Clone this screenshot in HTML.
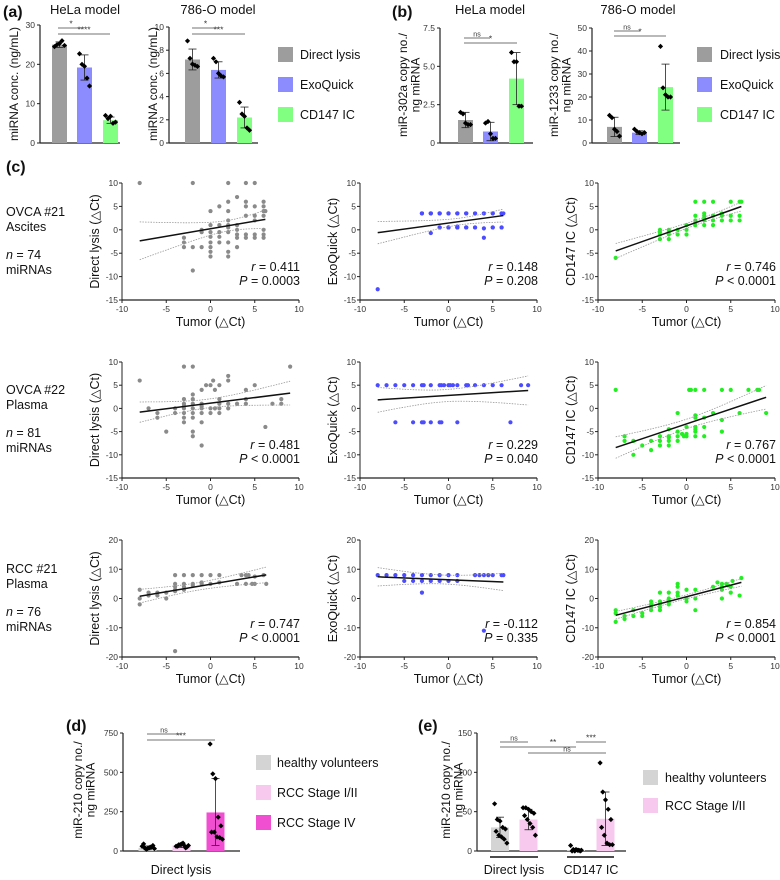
<!DOCTYPE html>
<html><head><meta charset="utf-8"><style>
html,body{margin:0;padding:0;background:#fff}
svg{display:block;font-family:"Liberation Sans",Arial,sans-serif}
</style></head><body>
<svg id="fig" width="780" height="880" viewBox="0 0 780 880" xmlns="http://www.w3.org/2000/svg"></svg>
<script>
// ---------- data: panel (a) ----------
const aCats = ["Direct lysis","ExoQuick","CD147 IC"];
const aHelaMeans = [25, 19.2, 5.8];
const aHelaSd = [0.7, 3.2, 0.8];
const aHelaPts = [[24.5,25,25.3,26,24.8],[22.7,20,19.5,16.5,14.5],[7,6.2,6.8,5,5.3]];
const a786Means = [7.2, 6.3, 2.2];
const a786Sd = [0.9, 0.7, 0.9];
const a786Pts = [[8.8,7.3,6.8,6.7,6.6],[7.3,7,6,5.8,5.7],[3.5,2.5,2.3,1.3,1.1]];
const aHelaTicks = [0,10,20,30];
const a786Ticks = [0,2,4,6,8,10];
// ---------- panel (b) ----------
const bHelaMeans = [1.5, 0.75, 4.2];
const bHelaSd = [0.5, 0.6, 1.7];
const bHelaPts = [[2,1.9,1.3,1.2,1.2],[1.3,1.4,0.6,0.3,0.3],[5.9,5.3,5.3,2.4,2.4]];
const b786Means = [7, 4.5, 24.3];
const b786Sd = [4.2, 0.8, 10];
const b786Pts = [[12,11,6,5,3],[6,5,4.5,4,4.5],[42,24,21,20,20]];
const bHelaTicks = [0,2.5,5.0,7.5];
const bHelaTickLabels = ["0","2.5","5.0","7.5"];
const b786Ticks = [0,10,20,30,40,50];
// ---------- panel (c) scatter ----------
const r1c1x=[-8,-2,2,4,5,3,2,4,6,1,4,5,6,0,2,6,6.2,4,5,6,2,5,0,1,2,3,-1,2,3,6,-1,0,1,2,3,4,5,6,-3,0,1,3,4,5,6,-3,0,1,2,-3,-2,-1,0,3,0,2,0,2,-2];
const r1c1y=[10,10,10,10,10,7,6,6,6,5,5,5,5,4,4,4,4,3,3,3,2,2,1,1,1,1,0,0.5,0,0,-0.5,-0.5,-0.5,-0.5,-1,-1,-1,-1,-1.7,-1.5,-1.5,-1.7,-1.7,-1.7,-1.7,-2.7,-2.7,-2.7,-2.7,-3.7,-3.7,-3.7,-3.7,-3.7,-4.7,-4.7,-5.7,-5.7,-8.7];
const r1c2x=[-3,-2,-1,0,1,2,3,4,5,6,6.2,-3,-2,-1,0,1,2,3,4,5,6,-3,-2,-1,0,1,2,-1,0,1,2,3,5,6,-1,0,1,2,3,5,6,-1,0,1,2,1,4,-2,4,-8];
const r1c2y=[3.5,3.5,3.5,3.5,3.5,3.5,3.5,3.5,3.5,3.5,3.5,3.5,3.5,3.5,3.5,3.5,3.5,3.5,3.5,3.5,3.5,3.5,3.5,3.5,3.5,3.5,3.5,0.5,0.5,0.5,0.5,0.5,0.5,0.5,0.5,0.5,0.5,0.5,0.5,0.5,0.5,0.5,0.5,0.5,0.5,0.7,0.3,-0.7,-1.7,-12.7];
const r1c3x=[-8,-3,-3,-3,-2,-2,-2,-1,-1,0,0,0,1,2,3,5,6,6.2,1,2,2,3,4,4,5,6,1,1,2,2,3,4,5,6,1,2,3,-2,-3];
const r1c3y=[-6,0,-1,-2,0,-1,-2,0,-1,0,-1,1,6,6,6,6,6,6,3,3,3.5,3,3,3.5,3,3,2,1.5,2,2.5,2,2,2,2,1,1,1,-0.5,-0.5];
const r2c1x=[-8,-7,-6,-6,-5,-4,-4,-3,-3,-3,-3,-3,-3,-3,-2,-2,-2,-2,-2,-2,-2,-2,-2,-1,-1,-1,-1,-1,-1,-0.5,0,0.3,0.5,0,0,1,1,1,1,2,2,2,2,3,4,4,4,5,6.2,7,8,8,9,-1,0.5,1,-3];
const r2c1y=[6,0,-1,-2,-5,0,-1,9,2,1,0,-1,-2,-3,9,3,2,1,0,-1,-2,-5,-6,4,1,0,-1,-3,-8,5,5,6,4,0,-1,5,2,0,-1,7,6,1,0,1,4,2,1,5,-4,1,2,1,9,0.5,0,1,0.5];
const r2c2x=[-8,-7,-6,-5,-4,-3,-2.8,-2,-1,-0.8,-0.5,0,0.2,0.5,1,2,2.2,3,4,5,6,8.2,9,-6,-4,-3,-2.8,-2,-1,-0.8,1,7];
const r2c2y=[5,5,5,5,5,5,5,5,5,5,5,5,5,5,5,5,5,5,5,5,5,5,5,-3,-3,-3,-3,-3,-3,-3,-3,-3];
const r2c3x=[-8,-7,-7,-6,-6,-5,-4,-4,-3,-3,-3,-2,-2,-2,-2,-2,-1,-1,-1,-1,-0.5,-0.3,0,0,0,0.3,0.5,1,1,1,1,1,1,1,2,2,2,2,3,4,4,4,5,6,7,8,8.2,9];
const r2c3y=[4,-6,-7,-7,-10,-8,-7,-9,-6,-7,-8,-4.5,-6,-6.3,-7,-8,-1,-5,-6,-7,-5.5,-6,-4,-5.5,-6,4,4,4,-1.5,-2,-4,-4.5,-5,-6,4,-2,-4,-6,-1,4,-2.5,-5,4,-1,4,4,4,-1];
const r3c1x=[-8,-8,-8,-7,-7,-6,-6,-5,-5,-4,-4,-4,-4,-4,-3,-3,-3,-3,-2,-2,-1,-1,0,0,1,1,3,3.5,4,4,4.3,4.7,5,5,6,6.3,-4,-1,-2];
const r3c1y=[3,0,-2,1,2,1,2,2,0,8,5,4,3,2.5,8,5,4,3,8,5,8,5,8,5,8,5.5,5,8,8,5,8,5,5,7.5,8,5,-18,5.5,4.5];
const r3c2x=[-8,-7,-6,-5,-4,-3,-2,-1,0,1,3,3.5,4,4.5,5,6,6.2,-5,-4,-3,-2,-1,0,1,-3,4];
const r3c2y=[8,8,8,8,8,8,8,8,8,8,8,8,8,8,8,8,8,6,6,6,6,6,6,6,2,-11];
const r3c3x=[-8,-8,-8,-7,-7,-6,-6,-5,-5,-4,-4,-4,-4,-3,-3,-3,-3,-3,-2,-2,-2,-2,-1,-1,-1,-1,0,0,0,1,1,1,3,3.5,4,4,4,4,4.5,5,5,5.2,6,6.2,4.7];
const r3c3y=[-5,-4,-8,-6,-7,-4,-6,-5,-6,-1,-2,-3,-4,-1,-2,-3,-4,2,0,-1,-2,2,5,4,1,2,3,0,-1,3,0,-4,4,5.5,5,4,3,0,5,4,2,6,1,7,4.5];
const cStatsR = [["0.411","0.148","0.746"],["0.481","0.229","0.767"],["0.747","-0.112","0.854"]];
const cStatsP = [["= 0.0003","= 0.208","< 0.0001"],["< 0.0001","= 0.040","< 0.0001"],["< 0.0001","= 0.335","< 0.0001"]];
const cXTicks = [-10,-5,0,5,10];
const cYTicksA = [10,5,0,-5,-10,-15];
const cYTicksB = [20,10,0,-10,-20];
// ---------- panel (d) ----------
const dMeans = [20, 35, 245];
const dErrLo = [8, 22, 35];
const dErrHi = [32, 48, 460];
const dPts = [[30,20,15,25,35,45,10,20,25,15],[30,40,45,35,25,30,40,50,20,35],[680,490,460,215,160,120,120,90,85,75]];
const dTicks = [0,250,500,750];
// ---------- panel (e) ----------
const eMeans = [30, 40, 1, 41];
const eSd = [13, 13, 2, 34];
const ePts = [[60,40,38,30,28,25,20,18,15,10],[55,55,53,50,48,45,40,35,30,20],[7,2,2,1,1,0,0,1,0],[112,75,65,53,40,30,20,10,8,8]];
const eTicks = [0,50,100,150];

const NS="http://www.w3.org/2000/svg";
const svg=document.getElementById('fig');
function el(tag,attrs,parent,text){const e=document.createElementNS(NS,tag);for(const k in attrs)e.setAttribute(k,attrs[k]);if(text!==undefined)e.textContent=text;(parent||svg).appendChild(e);return e;}
function txt(x,y,s,size,opts,name){opts=opts||{};const t=el('text',Object.assign({x:x,y:y,'font-size':size,fill:'#111'},opts),null,s);


return t;}
function rtxt(cx,cy,lines,size,name){
  const g=el('g',{transform:`translate(${cx},${cy}) rotate(-90)`});
  
  
  const n=lines.length;
  lines.forEach((l,i)=>{el('text',{x:0,y:(i-(n-1)/2)*12.5+4,'font-size':size,'text-anchor':'middle',fill:'#111'},g,l);});
}
function line(x1,y1,x2,y2,stroke,w,name,extra){const l=el('line',Object.assign({x1,y1,x2,y2,stroke,'stroke-width':w},extra||{}));


return l;}

function barPanel(o){
  const sy=v=>o.y0-(v-o.ymin)/(o.ymax-o.ymin)*(o.y0-o.y1);
  line(o.ax,o.y1,o.ax,o.y0,'#222',1.2,'y-axis');
  line(o.ax,o.y0,o.xend,o.y0,'#222',1.2,'x-axis');
  o.ticks.forEach((t,i)=>{const y=sy(t);line(o.ax-3,y,o.ax,y,'#222',1,'y-tick');
    txt(o.ax-5,y+3,o.tickLabels?o.tickLabels[i]:String(t),8.5,{'text-anchor':'end',fill:'#333'},'y-tick-label');});
  o.means.forEach((m,i)=>{
    const cx=o.bx[i], w=o.bw;
    const r=el('rect',{x:cx-w/2,y:sy(m),width:w,height:o.y0-sy(m),fill:o.colors[i]});
    
    
    const lo=o.lo?o.lo[i]:m-o.sd[i], hi=o.hi?o.hi[i]:m+o.sd[i];
    line(cx,sy(Math.max(lo,o.ymin)),cx,sy(hi),'#222',0.8,'error-bar');
    line(cx-4,sy(hi),cx+4,sy(hi),'#222',0.8,'error-cap');
    line(cx-4,sy(Math.max(lo,o.ymin)),cx+4,sy(Math.max(lo,o.ymin)),'#222',0.8,'error-cap');
    const pts=o.pts[i];
    pts.forEach((v,j)=>{const off=((j%5)-2)*(w/6)*(pts.length>6?0.9:1)+(pts.length>6&&j>=5?w/12:0);
      const p=el('path',{d:`M${cx+off} ${sy(v)-2.6}l2.6 2.6l-2.6 2.6l-2.6 -2.6z`,fill:'#000'});
      
      });
  });
  (o.sig||[]).forEach(s=>{line(s[0],s[1],s[2],s[1],'#444',0.8,'significance-bar');
    if(s[3])txt((s[0]+s[2])/2,s[1]-1.5,s[3],s[4]||8.5,{'text-anchor':'middle',fill:'#333'},'significance-label');});
  return sy;
}
function legend(x,y0,gap,colors,labels,tx){
  colors.forEach((c,i)=>{const r=el('rect',{x:x,y:y0+i*gap,width:15,height:15,fill:c});
    
    
    txt(tx,y0+i*gap+12,labels[i],12.5,{},'legend-entry');});
}
const C3=['#9d9d9d','#8c8cff','#80ff80'];

// (a)
txt(3,17,'(a)',16,{'font-weight':'bold'},'panel-label-a');
txt(85,14,'HeLa model',13,{'text-anchor':'middle'},'panel-title');
txt(218,14,'786-O model',13,{'text-anchor':'middle'},'panel-title');
barPanel({ax:40,xend:120,y0:143,y1:25,ymin:0,ymax:30,ticks:aHelaTicks,means:aHelaMeans,sd:aHelaSd,pts:aHelaPts,bx:[59.5,84.5,110.5],bw:15,colors:C3,
  sig:[[58,28,84,'*'],[58,34,110,'****']]});
rtxt(14,84,['miRNA conc. (ng/mL)'],12,'y-axis-title');
barPanel({ax:169,xend:258,y0:143,y1:27,ymin:0,ymax:10,ticks:a786Ticks,means:a786Means,sd:a786Sd,pts:a786Pts,bx:[192.5,218.5,244.5],bw:15,colors:C3,
  sig:[[192,28,219,'*'],[192,34,245,'***']]});
rtxt(153,84,['miRNA conc. (ng/mL)'],12,'y-axis-title');
legend(278,47,30,C3,aCats,300);

// (b)
txt(392,17,'(b)',16,{'font-weight':'bold'},'panel-label-b');
txt(490,14,'HeLa model',13,{'text-anchor':'middle'},'panel-title');
txt(638,14,'786-O model',13,{'text-anchor':'middle'},'panel-title');
barPanel({ax:440,xend:533,y0:143,y1:28,ymin:0,ymax:7.5,ticks:bHelaTicks,tickLabels:bHelaTickLabels,means:bHelaMeans,sd:bHelaSd,pts:bHelaPts,bx:[465.5,490.5,516.5],bw:15,colors:C3,
  sig:[[464,38,490,'ns',7],[464,43,517,'*']]});
rtxt(409,85,['miR-302a copy no./','ng miRNA'],12,'y-axis-title');
barPanel({ax:592,xend:680,y0:143,y1:28,ymin:0,ymax:50,ticks:b786Ticks,means:b786Means,sd:b786Sd,pts:b786Pts,bx:[614.5,639.5,665.5],bw:15,colors:C3,
  sig:[[614,31,640,'ns',7],[614,36,666,'*']]});
rtxt(560,85,['miR-1233 copy no./','ng miRNA'],12,'y-axis-title');
legend(697,47,30,C3,aCats,720);

// (c)
txt(6,172,'(c)',16,{'font-weight':'bold'},'panel-label-c');
const rowLabels=[['OVCA #21','Ascites','= 74'],['OVCA #22','Plasma','= 81'],['RCC #21','Plasma','= 76']];
const rowY=[{top:183,bot:300,ymin:-15,ymax:10,ticks:cYTicksA,lab:216},{top:362,bot:478,ymin:-15,ymax:10,ticks:cYTicksA,lab:394},{top:540,bot:657,ymin:-20,ymax:20,ticks:cYTicksB,lab:573}];
const cols=[{x0:122,x1:299,name:'Direct lysis (△Ct)',color:'#8a8a8a'},{x0:360,x1:537,name:'ExoQuick (△Ct)',color:'#4b4bff'},{x0:598,x1:775,name:'CD147 IC (△Ct)',color:'#22ee22'}];
const scatterX=[[r1c1x,r1c2x,r1c3x],[r2c1x,r2c2x,r2c3x],[r3c1x,r3c2x,r3c3x]];
const scatterY=[[r1c1y,r1c2y,r1c3y],[r2c1y,r2c2y,r2c3y],[r3c1y,r3c2y,r3c3y]];
rowY.forEach((R,ri)=>{
  const L=rowLabels[ri];
  txt(6,R.lab,L[0],12.5,{},'row-label');
  txt(6,R.lab+15,L[1],12.5,{},'row-label');
  const nt=txt(6,R.lab+43,'',12.5,{},'row-n-label');
  el('tspan',{'font-style':'italic'},nt,'n'); el('tspan',{},nt,' '+L[2]);
  txt(6,R.lab+58,'miRNAs',12.5,{},'row-label');
  cols.forEach((Cc,ci)=>{
    const sx=v=>Cc.x0+(v+10)/20*(Cc.x1-Cc.x0);
    const sy=v=>R.bot-(v-R.ymin)/(R.ymax-R.ymin)*(R.bot-R.top);
    line(Cc.x0,R.top,Cc.x0,R.bot,'#222',1,'y-axis');
    line(Cc.x0,R.bot,Cc.x1,R.bot,'#222',1.3,'x-axis');
    cXTicks.forEach(t=>{line(sx(t),R.bot,sx(t),R.bot+3,'#222',1,'x-tick');txt(sx(t),R.bot+12,String(t),8.5,{'text-anchor':'middle',fill:'#333'},'x-tick-label');});
    R.ticks.forEach(t=>{line(Cc.x0-3,sy(t),Cc.x0,sy(t),'#222',1,'y-tick');txt(Cc.x0-4,sy(t)+3,String(t),8.5,{'text-anchor':'end',fill:'#333'},'y-tick-label');});
    txt((Cc.x0+Cc.x1)/2,R.bot+26,'Tumor (△Ct)',12.5,{'text-anchor':'middle'},'x-axis-title');
    rtxt(Cc.x0-27,(R.top+R.bot)/2,[Cc.name],12.5,'y-axis-title');
    const X=scatterX[ri][ci], Y=scatterY[ri][ci];
    X.forEach((x,i)=>{const c=el('circle',{cx:sx(x),cy:sy(Y[i]),r:2.1,fill:Cc.color});
      
      });
    const n=X.length, mx=X.reduce((a,b)=>a+b)/n, my=Y.reduce((a,b)=>a+b)/n;
    let sxx=0,sxy=0; X.forEach((x,i)=>{sxx+=(x-mx)**2;sxy+=(x-mx)*(Y[i]-my);});
    const b=sxy/sxx, a=my-b*mx;
    let sse=0; X.forEach((x,i)=>{sse+=(Y[i]-a-b*x)**2;}); const s=Math.sqrt(sse/(n-2));
    const xmin=Math.min(...X), xmax=Math.max(...X);
    const band=(sign)=>{let d='';for(let k=0;k<=20;k++){const x=xmin+(xmax-xmin)*k/20;const y=a+b*x+sign*2*s*Math.sqrt(1/n+(x-mx)**2/sxx);d+=(k?'L':'M')+sx(x).toFixed(1)+' '+sy(y).toFixed(1);}return d;};
    [1,-1].forEach(sg=>{const p=el('path',{d:band(sg),fill:'none',stroke:'#999','stroke-width':0.8,'stroke-dasharray':'1.5 1.2'});
      
      });
    line(sx(xmin),sy(a+b*xmin),sx(xmax),sy(a+b*xmax),'#111',1.5,'regression-line');
    const rt=txt(Cc.x1+1,R.bot-29,'',12.5,{'text-anchor':'end'},'r-value');
    el('tspan',{'font-style':'italic'},rt,'r'); el('tspan',{},rt,' = '+cStatsR[ri][ci]);
    const pt=txt(Cc.x1+1,R.bot-15,'',12.5,{'text-anchor':'end'},'p-value');
    el('tspan',{'font-style':'italic'},pt,'P'); el('tspan',{},pt,' '+cStatsP[ri][ci]);
  });
});

// (d)
txt(66,731,'(d)',16,{'font-weight':'bold'},'panel-label-d');
barPanel({ax:123,xend:240,y0:851,y1:733,ymin:0,ymax:750,ticks:dTicks,means:dMeans,lo:dErrLo,hi:dErrHi,pts:dPts,bx:[147.5,181.5,215.5],bw:18,
  colors:['#d4d4d4','#f7c9ee','#f04fd2'],sig:[[147,734,181,'ns',7],[147,740,215,'***']]});
rtxt(84,790,['miR-210 copy no./','ng miRNA'],12,'y-axis-title');
txt(181,874,'Direct lysis',12.5,{'text-anchor':'middle'},'x-group-label');
legend(256,755,30,['#d4d4d4','#f7c9ee','#f04fd2'],['healthy volunteers','RCC Stage I/II','RCC Stage IV'],277);

// (e)
txt(418,731,'(e)',16,{'font-weight':'bold'},'panel-label-e');
barPanel({ax:477,xend:626,y0:851,y1:733,ymin:0,ymax:150,ticks:eTicks,means:eMeans,sd:eSd,pts:ePts,bx:[500,528.5,576,605.5],bw:18,
  colors:['#d4d4d4','#f7c9ee','#d4d4d4','#f7c9ee'],
  sig:[[500,742,528,'ns',7],[500,747,576,''],[528,753,606,'ns',7],[576,742,606,'***']]});
txt(553,745,'**',8.5,{'text-anchor':'middle',fill:'#333'},'significance-label');
line(490,857,538,857,'#111',1.5,'group-underline');
line(567,857,614,857,'#111',1.5,'group-underline');
rtxt(452,790,['miR-210 copy no./','ng miRNA'],12,'y-axis-title');
txt(514,874,'Direct lysis',12.5,{'text-anchor':'middle'},'x-group-label');
txt(591,874,'CD147 IC',12.5,{'text-anchor':'middle'},'x-group-label');
legend(643,770,28,['#d4d4d4','#f7c9ee'],['healthy volunteers','RCC Stage I/II'],665);
</script>
</body></html>
